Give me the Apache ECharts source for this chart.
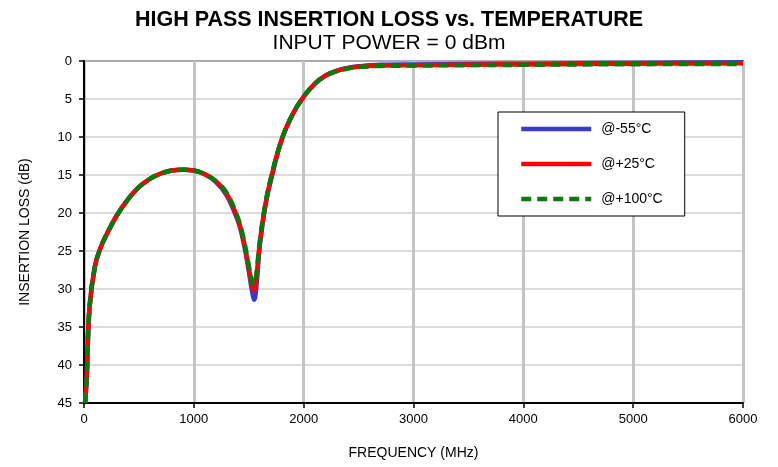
<!DOCTYPE html>
<html>
<head>
<meta charset="utf-8">
<script src="https://cdn.jsdelivr.net/npm/echarts@6/dist/echarts.min.js"></script>
<style>
html,body{margin:0;padding:0;background:#fff;}
#chart{width:778px;height:467px;}
</style>
</head>
<body>
<div id="chart"></div>
<script>
const freqMHz = [10, 25, 50, 100, 150, 200, 300, 400, 500, 600, 700, 800, 900, 1000, 1100, 1200, 1300, 1400, 1450, 1500, 1530, 1550, 1570, 1600, 1650, 1700, 1800, 1900, 2000, 2100, 2200, 2300, 2400, 2500, 2700, 3000, 3500, 4000, 4500, 5000, 5500, 6000];
const lossM55 = [45, 41.5, 32.5, 27.0, 24.6, 23.0, 20.3, 18.2, 16.6, 15.5, 14.8, 14.4, 14.3, 14.4, 14.9, 15.9, 17.7, 21.0, 23.7, 27.6, 30.3, 31.4, 29.6, 24.4, 19.2, 15.8, 10.4, 7.0, 4.7, 3.0, 1.9, 1.3, 0.9, 0.7, 0.5, 0.45, 0.4, 0.35, 0.3, 0.25, 0.2, 0.15];
const lossP25 = [45, 41.5, 32.5, 27.0, 24.6, 23.0, 20.3, 18.2, 16.6, 15.5, 14.8, 14.4, 14.3, 14.4, 14.9, 15.8, 17.5, 20.8, 23.4, 27.2, 29.5, 30.2, 28.5, 24.0, 19.0, 15.6, 10.3, 7.0, 4.7, 3.0, 1.9, 1.3, 0.95, 0.75, 0.6, 0.55, 0.5, 0.45, 0.4, 0.35, 0.32, 0.3];
const lossP100 = [45, 41.5, 32.5, 27.0, 24.6, 23.0, 20.3, 18.2, 16.6, 15.5, 14.8, 14.4, 14.3, 14.4, 14.9, 15.8, 17.4, 20.6, 23.2, 26.9, 29.0, 29.5, 28.0, 23.8, 18.9, 15.5, 10.3, 7.0, 4.7, 3.0, 1.95, 1.35, 1.0, 0.8, 0.65, 0.6, 0.55, 0.5, 0.45, 0.42, 0.4, 0.38];
const seriesNames = ['@-55°C', '@+25°C', '@+100°C'];
const xTicks = [0, 1000, 2000, 3000, 4000, 5000, 6000];
const yTicks = [0, 5, 10, 15, 20, 25, 30, 35, 40, 45];

function pairs(ys){ return freqMHz.map((f,i)=>[f, ys[i]]); }

const chart = echarts.init(document.getElementById('chart'), null, {renderer:'canvas'});
const font = 'Liberation Sans, Arial, sans-serif';
chart.setOption({
  animation:false,
  backgroundColor:'#fff',
  title:[
    {text:'HIGH PASS INSERTION LOSS vs. TEMPERATURE', left:'center', top:4,
     textStyle:{fontFamily:font, fontSize:21.5, fontWeight:'bold', color:'#000'}},
    {text:'INPUT POWER = 0 dBm', left:'center', top:28,
     textStyle:{fontFamily:font, fontSize:21, fontWeight:'normal', color:'#000'}}
  ],
  grid:{left:84, right:35, top:61, bottom:64, show:true, borderColor:'#000', borderWidth:1.5, backgroundColor:'#fff'},
  legend:{
    orient:'vertical', left:498, top:112,
    data:seriesNames,
    itemWidth:70, itemHeight:14, itemGap:21,
    padding:[10,22,10,21],
    backgroundColor:'#fff', borderColor:'#000', borderWidth:1,
    itemStyle:{opacity:0},
    lineStyle:{width:4.5},
    textStyle:{fontFamily:font, fontSize:14, color:'#000', padding:[0,0,0,5]}
  },
  xAxis:{
    type:'value', min:xTicks[0], max:xTicks[xTicks.length-1], interval:1000,
    name:'FREQUENCY (MHz)', nameLocation:'middle', nameGap:43,
    nameTextStyle:{fontFamily:font, fontSize:14, color:'#000'},
    axisLine:{show:true, onZero:false, lineStyle:{color:'#000', width:2}},
    axisTick:{show:true, length:5, lineStyle:{color:'#000', width:1.5}},
    axisLabel:{fontFamily:font, fontSize:13, color:'#000', margin:10, formatter:(v)=>String(v)},
    splitLine:{show:true, lineStyle:{color:'#c4c4c4', width:3}}
  },
  yAxis:{
    type:'value', inverse:true, min:yTicks[0], max:yTicks[yTicks.length-1], interval:5,
    name:'INSERTION LOSS (dB)', nameLocation:'middle', nameGap:52, nameRotate:90,
    nameTextStyle:{fontFamily:font, fontSize:14, color:'#000'},
    axisLine:{show:true, onZero:false, lineStyle:{color:'#000', width:2}},
    axisTick:{show:true, length:5, lineStyle:{color:'#000', width:1.5}},
    axisLabel:{fontFamily:font, fontSize:13, color:'#000', margin:12},
    splitLine:{show:true, lineStyle:{color:'#d0d0d0', width:1.5}}
  },
  series:[
    {name:seriesNames[0], type:'line', data:pairs(lossM55), smooth:0.4, symbol:'none',
     lineStyle:{color:'#3a3ad0', width:4.5}, itemStyle:{color:'#3a3ad0'}, z:2},
    {name:seriesNames[1], type:'line', data:pairs(lossP25), smooth:0.4, symbol:'none',
     lineStyle:{color:'#ff0000', width:4.5}, itemStyle:{color:'#ff0000'}, z:3},
    {name:seriesNames[2], type:'line', data:pairs(lossP100), smooth:0.4, symbol:'none',
     lineStyle:{color:'#0a7a0a', width:4.5, type:[10,6]}, itemStyle:{color:'#0a7a0a'}, z:4}
  ]
});
</script>
</body>
</html>
